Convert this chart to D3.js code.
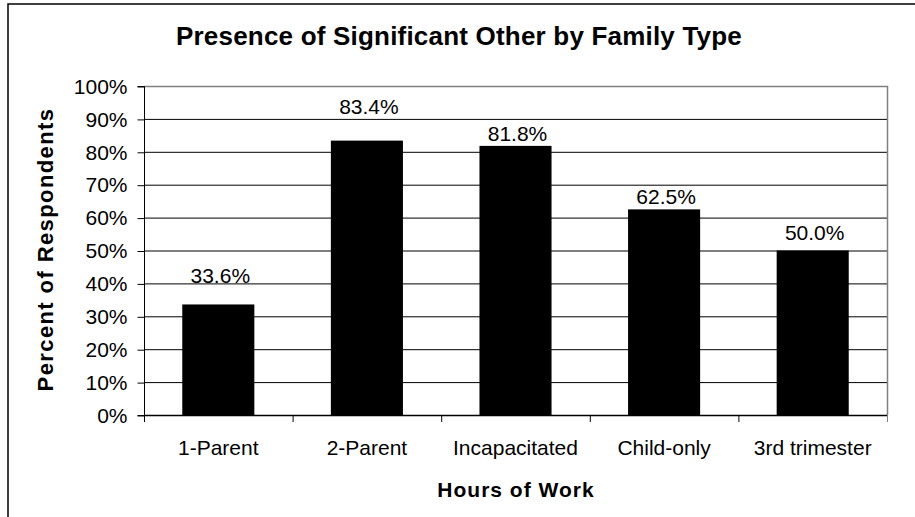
<!DOCTYPE html>
<html><head><meta charset="utf-8">
<script src="https://cdn.jsdelivr.net/npm/d3@7"></script>
<style>body{margin:0;background:#fff}svg{display:block}text{font-family:"Liberation Sans",Arial,sans-serif}</style>
</head><body><svg id="c" width="915" height="517"></svg>
<script>
const categories = ["1-Parent","2-Parent","Incapacitated","Child-only","3rd trimester"];
const values = [33.6, 83.4, 81.8, 62.5, 50.0];
const valueLabels = ["33.6%","83.4%","81.8%","62.5%","50.0%"];
const yTicks = [0,10,20,30,40,50,60,70,80,90,100];
const labelLift = [21.5, 27, 5, 5.5, 10.5]; // px above bar top (manual placement in source)

const svg = d3.select("#c");
const L=144, R=887, T=86, B=415;
svg.append("rect").attr("x",8).attr("y",4).attr("width",1000).attr("height",600)
  .attr("fill","#fff").attr("stroke","#000").attr("stroke-width",1.5);

const x = d3.scaleBand().domain(categories).range([L,R]).paddingInner(0.515).paddingOuter(0.2575);
const xs = d3.scalePoint().domain(d3.range(categories.length+1)).range([L,R]);
const y = d3.scaleLinear().domain([0,100]).range([B,T]);

// gridlines
svg.append("g").selectAll("line").data(yTicks.filter(d=>d>0&&d<100)).join("line")
  .attr("x1",L).attr("x2",R).attr("y1",d=>y(d)+0.5).attr("y2",d=>y(d)+0.5)
  .attr("stroke","#000").attr("stroke-width",1);
// frame top/right gray
svg.append("path").attr("d",`M${L},${y(100)+0.5}H${R+0.5}V${B}`).attr("fill","none").attr("stroke","#808080").attr("stroke-width",1.5);

// bars
svg.append("g").selectAll("rect").data(values).join("rect")
  .attr("x",(d,i)=>x(categories[i])).attr("width",x.bandwidth())
  .attr("y",d=>y(d)).attr("height",d=>B-y(d)).attr("fill","#000");

// y axis
const yAxis = d3.axisLeft(y).tickValues(yTicks).tickFormat(d=>d+"%").tickSize(7).tickPadding(10);
const gy = svg.append("g").attr("transform",`translate(${L+0.5},0.5)`).call(yAxis);
gy.select(".domain").attr("stroke","#000").attr("d",`M-7,${T}H0V${B}H-7`);
gy.selectAll(".tick line").attr("stroke","#000");
gy.selectAll("text").attr("font-size",21).attr("fill","#000").attr("font-family","Liberation Sans, Arial, sans-serif");

// x axis
svg.append("line").attr("x1",L).attr("x2",R).attr("y1",B+0.5).attr("y2",B+0.5).attr("stroke","#000").attr("stroke-width",1.5);
svg.append("g").selectAll("line").data(d3.range(categories.length+1)).join("line")
  .attr("x1",d=>xs(d)+0.5).attr("x2",d=>xs(d)+0.5).attr("y1",B).attr("y2",B+7)
  .attr("stroke",(d)=>d===categories.length?"#808080":"#000").attr("stroke-width",1);
svg.append("g").selectAll("text").data(categories).join("text")
  .attr("x",d=>x(d)+x.bandwidth()/2).attr("y",455).attr("text-anchor","middle")
  .attr("font-size",21).text(d=>d);

// value labels
svg.append("g").selectAll("text").data(values).join("text")
  .attr("x",(d,i)=>x(categories[i])+x.bandwidth()/2+2).attr("y",(d,i)=>y(d)-labelLift[i])
  .attr("text-anchor","middle").attr("font-size",21).text((d,i)=>valueLabels[i]);

// titles
svg.append("text").attr("x",459).attr("y",45).attr("text-anchor","middle")
  .attr("font-size",26).attr("font-weight","bold").attr("letter-spacing",0.2).text("Presence of Significant Other by Family Type");
svg.append("text").attr("x",516).attr("y",497).attr("text-anchor","middle")
  .attr("font-size",21).attr("font-weight","bold").attr("letter-spacing",1).text("Hours of Work");
svg.append("text").attr("transform",`translate(53,${(T+B)/2 - 1}) rotate(-90)`).attr("text-anchor","middle")
  .attr("font-size",22).attr("font-weight","bold").attr("letter-spacing",1.4).text("Percent of Respondents");
</script></body></html>
